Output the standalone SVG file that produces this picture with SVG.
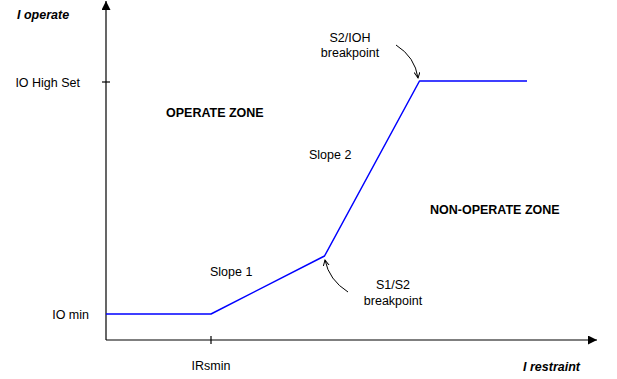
<svg xmlns="http://www.w3.org/2000/svg" width="617" height="379" viewBox="0 0 617 379">
<style>
text{font-family:"Liberation Sans",Arial,sans-serif;font-size:12.5px;fill:#000}
.b{font-weight:bold;font-size:12.5px}
.bi{font-weight:bold;font-style:italic}
.ax{stroke:#000;stroke-width:1.2;fill:none}
.curve{stroke:#000;stroke-width:1;fill:none}
.plot{stroke:#0000ff;stroke-width:1.5;fill:none;stroke-linejoin:round}
</style>
<defs>
<marker id="ah" markerWidth="10" markerHeight="10" refX="9" refY="4.5" orient="auto" markerUnits="userSpaceOnUse">
<path d="M0,0 L9,4.5 L0,9 Z" fill="#000"/>
</marker>
<marker id="sa" markerWidth="8" markerHeight="8" refX="6" refY="3" orient="auto" markerUnits="userSpaceOnUse">
<path d="M0,0 L6,3 L0,6" fill="none" stroke="#000" stroke-width="1"/>
</marker>
</defs>
<g id="axes">
<line class="ax" x1="106" y1="340" x2="106" y2="1" marker-end="url(#ah)"/>
<line class="ax" x1="106" y1="340" x2="597" y2="340" marker-end="url(#ah)"/>
<line class="ax" x1="102" y1="82" x2="110" y2="82"/>
<line class="ax" x1="211" y1="336" x2="211" y2="344"/>
</g>
<g id="axis-labels">
<text class="bi" x="17" y="18.5">I operate</text>
<text class="bi" x="580" y="370.5" text-anchor="end">I restraint</text>
<text x="80" y="86.5" text-anchor="end">IO High Set</text>
<text x="89" y="318.5" text-anchor="end">IO min</text>
<text x="211" y="369.5" text-anchor="middle">IRsmin</text>
</g>
<g id="characteristic">
<polyline class="plot" points="106,314 211,314 324.5,256 419.5,81 527,81"/>
</g>
<g id="zones">
<text class="b" x="166" y="116.5">OPERATE ZONE</text>
<text class="b" x="430" y="213.5">NON-OPERATE ZONE</text>
</g>
<g id="slope-labels">
<text x="210" y="275.5">Slope 1</text>
<text x="309" y="158.5">Slope 2</text>
</g>
<g id="s2ioh-label">
<text x="350" y="41.5" text-anchor="middle">S2/IOH</text>
<text x="350" y="56.5" text-anchor="middle">breakpoint</text>
</g>
<g id="s1s2-label">
<text x="393" y="288.5" text-anchor="middle">S1/S2</text>
<text x="393" y="304.5" text-anchor="middle">breakpoint</text>
</g>
<g id="connectors">
<path class="curve" d="M396,45 Q415,57 418,78" marker-end="url(#sa)"/>
<path class="curve" d="M348,292 Q329,280 325,260" marker-end="url(#sa)"/>
</g>
</svg>
